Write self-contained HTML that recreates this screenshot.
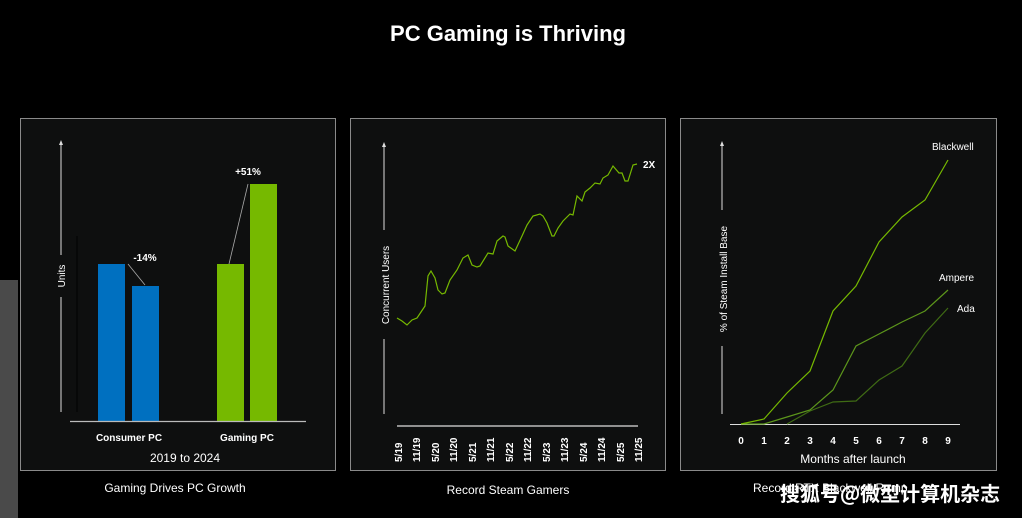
<!DOCTYPE html>
<html><head><meta charset="utf-8"><style>
html,body{margin:0;padding:0;background:#000;width:1022px;height:518px;overflow:hidden}
svg{display:block}
text{font-family:"Liberation Sans","Noto Sans CJK SC",sans-serif;fill:#fff}
</style></head><body>
<svg width="1022" height="518" viewBox="0 0 1022 518" xmlns="http://www.w3.org/2000/svg">
<rect width="1022" height="518" fill="#000"/>
<rect x="0" y="280" width="18" height="238" fill="#4a4a4a"/>
<text x="508" y="41" font-size="22" font-weight="bold" text-anchor="middle">PC Gaming is Thriving</text>

<!-- panel 1 -->
<rect x="20.5" y="118.5" width="315" height="352" fill="#0e0f0f" stroke="#8a8a8a" stroke-width="1"/>
<line x1="61" y1="142" x2="61" y2="255" stroke="#ddd" stroke-width="1"/>
<line x1="61" y1="297" x2="61" y2="412" stroke="#ddd" stroke-width="1"/>
<polygon points="61,140 59,145 63,145" fill="#ddd"/>
<text transform="translate(65,276) rotate(-90)" font-size="10" text-anchor="middle">Units</text>
<line x1="77" y1="236" x2="77" y2="412" stroke="#000" stroke-width="1"/>
<rect x="98" y="264" width="27" height="157" fill="#0070c0"/>
<rect x="132" y="286" width="27" height="135" fill="#0070c0"/>
<rect x="217" y="264" width="27" height="157" fill="#76b900"/>
<rect x="250" y="184" width="27" height="237" fill="#76b900"/>
<line x1="70" y1="421.5" x2="306" y2="421.5" stroke="#bbb" stroke-width="1.2"/>
<line x1="128" y1="264" x2="145" y2="285" stroke="#aaa" stroke-width="0.8"/>
<line x1="229" y1="264" x2="248" y2="184" stroke="#aaa" stroke-width="0.8"/>
<text x="145" y="261" font-size="10" font-weight="bold" text-anchor="middle">-14%</text>
<text x="248" y="175" font-size="10" font-weight="bold" text-anchor="middle">+51%</text>
<text x="129" y="441" font-size="10" font-weight="bold" text-anchor="middle">Consumer PC</text>
<text x="247" y="441" font-size="10" font-weight="bold" text-anchor="middle">Gaming PC</text>
<text x="185" y="462" font-size="12" text-anchor="middle">2019 to 2024</text>
<text x="175" y="492" font-size="12" text-anchor="middle">Gaming Drives PC Growth</text>

<!-- panel 2 -->
<rect x="350.5" y="118.5" width="315" height="352" fill="#0e0f0f" stroke="#8a8a8a" stroke-width="1"/>
<line x1="384" y1="145" x2="384" y2="230" stroke="#ddd" stroke-width="1"/>
<line x1="384" y1="339" x2="384" y2="414" stroke="#ddd" stroke-width="1"/>
<polygon points="384,142 382,147 386,147" fill="#ddd"/>
<text transform="translate(389,285) rotate(-90)" font-size="10" text-anchor="middle">Concurrent Users</text>
<line x1="397" y1="426" x2="638" y2="426" stroke="#bbb" stroke-width="1.5"/>
<polyline fill="none" stroke="#76b900" stroke-width="1.2" points="397,318 402,321 407,325 412,320 417,318 425,306 428,276 431,271 435,278 438,290 442,294 445,293 450,280 457,270 463,258 468,255 472,265 477,267 480,266 488,253 493,254 497,241 503,236 505,237 508,246 515,251 522,236 527,225 533,216 540,214 543,216 547,223 552,236 554,236 558,228 563,221 570,214 573,215 577,196 582,201 585,192 590,188 595,183 600,184 603,178 608,175 613,166 619,173 622,173 625,181 628,181 633,165 637,164"/>
<text x="643" y="168" font-size="10" font-weight="bold">2X</text>
<g font-size="10" font-weight="bold">
<text transform="translate(402,462) rotate(-90)">5/19</text>
<text transform="translate(420,462) rotate(-90)">11/19</text>
<text transform="translate(439,462) rotate(-90)">5/20</text>
<text transform="translate(457,462) rotate(-90)">11/20</text>
<text transform="translate(476,462) rotate(-90)">5/21</text>
<text transform="translate(494,462) rotate(-90)">11/21</text>
<text transform="translate(513,462) rotate(-90)">5/22</text>
<text transform="translate(531,462) rotate(-90)">11/22</text>
<text transform="translate(550,462) rotate(-90)">5/23</text>
<text transform="translate(568,462) rotate(-90)">11/23</text>
<text transform="translate(587,462) rotate(-90)">5/24</text>
<text transform="translate(605,462) rotate(-90)">11/24</text>
<text transform="translate(624,462) rotate(-90)">5/25</text>
<text transform="translate(642,462) rotate(-90)">11/25</text>
</g>
<text x="508" y="494" font-size="12" text-anchor="middle">Record Steam Gamers</text>

<!-- panel 3 -->
<rect x="680.5" y="118.5" width="316" height="352" fill="#0e0f0f" stroke="#8a8a8a" stroke-width="1"/>
<line x1="722" y1="144" x2="722" y2="210" stroke="#ddd" stroke-width="1"/>
<line x1="722" y1="346" x2="722" y2="414" stroke="#ddd" stroke-width="1"/>
<polygon points="722,141 720,146 724,146" fill="#ddd"/>
<text transform="translate(727,279) rotate(-90)" font-size="10" text-anchor="middle">% of Steam Install Base</text>
<line x1="730" y1="424.5" x2="960" y2="424.5" stroke="#ddd" stroke-width="1"/>
<polyline fill="none" stroke="#3f6b14" stroke-width="1.2" points="787,424 810,411 833,402 856,401 879,380 902,366 925,333 948,308"/>
<polyline fill="none" stroke="#5c961b" stroke-width="1.2" points="741,424 764,424 787,417 810,410 833,390 856,346 879,334 902,322 925,311 948,290"/>
<polyline fill="none" stroke="#76b900" stroke-width="1.2" points="741,424 764,419 787,393 810,371 833,311 856,286 879,242 902,217 925,200 948,160"/>
<text x="932" y="150" font-size="10">Blackwell</text>
<text x="939" y="281" font-size="10">Ampere</text>
<text x="957" y="312" font-size="10">Ada</text>
<g font-size="10" font-weight="bold" text-anchor="middle">
<text x="741" y="444">0</text><text x="764" y="444">1</text><text x="787" y="444">2</text><text x="810" y="444">3</text><text x="833" y="444">4</text><text x="856" y="444">5</text><text x="879" y="444">6</text><text x="902" y="444">7</text><text x="925" y="444">8</text><text x="948" y="444">9</text>
</g>
<text x="853" y="463" font-size="12" text-anchor="middle">Months after launch</text>
<text x="753" y="492" font-size="12" fill="#ccc">Record RTX Blackwell Ramp</text>
<text x="780" y="501" font-size="20" font-weight="bold" style="font-family:'Noto Sans CJK SC',sans-serif;fill:#fff">搜狐号@微型计算机杂志</text>
</svg>
</body></html>
